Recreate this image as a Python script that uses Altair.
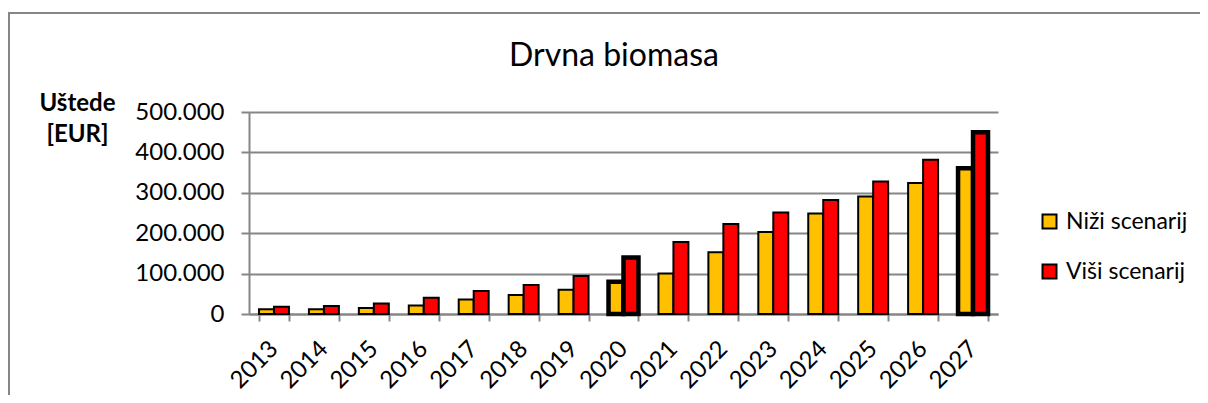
import altair as alt
import pandas as pd

years = ["2013", "2014", "2015", "2016", "2017", "2018", "2019", "2020",
         "2021", "2022", "2023", "2024", "2025", "2026", "2027"]
nizi = [12000, 12000, 15000, 21000, 36000, 47000, 60000, 80000,
        100000, 153000, 203000, 249000, 291000, 324000, 361000]
visi = [18000, 20000, 26000, 40000, 57000, 72000, 94000, 140000,
        178000, 223000, 251000, 282000, 328000, 382000, 450000]
series = ["Niži scenarij", "Viši scenarij"]
colors = ["#FFC000", "#FF0000"]
y_ticks = [0, 100000, 200000, 300000, 400000, 500000]
title_text = "Drvna biomasa"

rows = []
for i, yr in enumerate(years):
    rows.append({"year": yr, "series": series[0], "value": nizi[i]})
    rows.append({"year": yr, "series": series[1], "value": visi[i]})
df = pd.DataFrame(rows)

FONT = "Lato"
GRAY = "#868686"

bars = alt.Chart(df).mark_bar(stroke="black", strokeJoin="miter").encode(
    x=alt.X("year:N", sort=years,
            scale=alt.Scale(paddingInner=0.4, paddingOuter=0.2),
            axis=alt.Axis(title=None, labelAngle=-45, labelAlign="right",
                          labelBaseline="middle", labelFontSize=24,
                          labelPadding=24, labelColor="black",
                          tickBand="extent", tickSize=7, tickColor=GRAY,
                          tickWidth=2, domainColor=GRAY, domainWidth=2,
                          grid=False)),
    xOffset=alt.XOffset("series:N", sort=series),
    y=alt.Y("value:Q", scale=alt.Scale(domain=[0, 500000]),
            axis=alt.Axis(values=y_ticks,
                          labelExpr="replace(format(datum.value, ','), ',', '.')",
                          labelFontSize=24, labelColor="black", labelPadding=17,
                          tickSize=8, tickColor=GRAY, tickWidth=2,
                          domainColor=GRAY, domainWidth=2,
                          gridColor=GRAY, gridWidth=2,
                          title=["Uštede", "[EUR]"], titleAngle=0,
                          titleFontWeight="bold", titleFontSize=24,
                          titleColor="black", titleAlign="center",
                          titleBaseline="alphabetic", titleLineHeight=31,
                          titleX=-172, titleY=-2)),
    fill=alt.Fill("series:N", sort=series,
                  scale=alt.Scale(domain=series, range=colors),
                  legend=alt.Legend(title=None, orient="none", legendX=789,
                                    legendY=98, symbolType="square",
                                    symbolSize=196, symbolStrokeColor="black",
                                    symbolStrokeWidth=2, labelFontSize=23,
                                    labelColor="black", rowPadding=26,
                                    labelOffset=5)),
    strokeWidth=alt.condition("datum.year == '2020' || datum.year == '2027'",
                              alt.value(4.5), alt.value(2)),
)

frame = alt.Chart(pd.DataFrame({"a": [0]})).mark_rect(
    fill=None, stroke=GRAY, strokeWidth=2
).encode(
    x=alt.value(-240), x2=alt.value(958), y=alt.value(-99), y2=alt.value(300)
)

title = alt.Chart(pd.DataFrame({"t": [title_text]})).mark_text(
    fontSize=32, font=FONT, color="black", align="center", baseline="alphabetic"
).encode(text="t:N", x=alt.value(365), y=alt.value(-46))

chart = alt.layer(frame, bars, title).properties(
    width=749, height=202,
    autosize=alt.AutoSizeParams(type="none"),
    padding={"left": 241, "top": 104, "right": 202, "bottom": 81},
).configure(font=FONT).configure_view(stroke=None).configure_axis(
    labelFont=FONT, titleFont=FONT).configure_legend(labelFont=FONT)

chart.save("out.html", embed_options={"renderer": "svg", "actions": False})
